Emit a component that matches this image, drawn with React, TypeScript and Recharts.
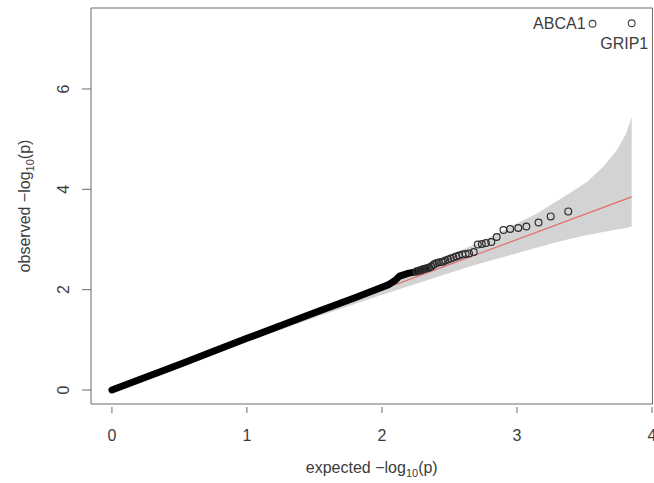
import React from 'react';
import { ComposedChart, XAxis, YAxis, Line, Area, Scatter, ReferenceArea, Label } from 'recharts';

// ---- tick labels ----
const xTicks = [0, 1, 2, 3, 4];
const yTicks = [0, 2, 4, 6];

// ---- 95% confidence band (expected, lower, upper) ----
const bandX = [0, 0.5, 1.0, 1.5, 2.0, 2.3, 2.5, 2.7, 2.9, 3.02, 3.15, 3.27, 3.39, 3.52, 3.64, 3.74, 3.81, 3.85];
const bandLow = [0, 0.485, 0.965, 1.44, 1.9, 2.16, 2.33, 2.5, 2.65, 2.74, 2.84, 2.93, 3.01, 3.09, 3.15, 3.2, 3.23, 3.26];
const bandHigh = [0.005, 0.515, 1.035, 1.56, 2.11, 2.45, 2.68, 2.92, 3.18, 3.35, 3.52, 3.72, 3.92, 4.15, 4.45, 4.78, 5.12, 5.45];

// ---- reference line y = x ----
const refX = [0, 3.85];
const refY = [0, 3.85];

// ---- dense bulk of the observed points ----
const denseX = [0, 0.5, 1.0, 1.5, 1.8, 2.0, 2.05, 2.1, 2.13, 2.2, 2.26, 2.3, 2.33];
const denseY = [0, 0.51, 1.03, 1.54, 1.84, 2.05, 2.1, 2.19, 2.27, 2.33, 2.36, 2.39, 2.42];

// ---- individual observed points in the tail ----
const ptX = [2.255, 2.265, 2.28, 2.29, 2.3, 2.31, 2.325, 2.34, 2.35, 2.365, 2.38, 2.39, 2.405, 2.42, 2.44, 2.455, 2.47, 2.49, 2.51, 2.53, 2.55, 2.57, 2.595, 2.62, 2.645, 2.68, 2.71, 2.74, 2.77, 2.81, 2.85, 2.9, 2.95, 3.01, 3.07, 3.16, 3.25, 3.38];
const ptY = [2.36, 2.37, 2.38, 2.39, 2.4, 2.41, 2.42, 2.43, 2.44, 2.46, 2.49, 2.51, 2.53, 2.54, 2.55, 2.56, 2.58, 2.6, 2.62, 2.64, 2.66, 2.68, 2.7, 2.71, 2.72, 2.75, 2.9, 2.91, 2.93, 2.95, 3.05, 3.19, 3.21, 3.23, 3.26, 3.34, 3.46, 3.56];

// ---- labelled top hits ----
const hitX = [3.56, 3.85];
const hitY = [7.3, 7.31];
const hitLabel = ['ABCA1', 'GRIP1'];

const bandData = bandX.map((x, i) => ({ x, band: [bandLow[i], bandHigh[i]] }));
const refData = refX.map((x, i) => ({ x, y: refY[i] }));
const denseData = denseX.map((x, i) => ({ x, y: denseY[i] }));
const pointData = ptX.map((x, i) => ({ x, y: ptY[i] }));
const hitData = hitX.map((x, i) => ({ x, y: hitY[i], label: hitLabel[i] }));

const FONT = '"Liberation Sans", Arial, Helvetica, sans-serif';
const TEXT = '#3c3c3c';
const LINE = '#6a6a6a';

const XTick = (props: any) => {
  const { x, y, payload } = props;
  return (
    <g>
      <line x1={x} x2={x} y1={y + 3} y2={y + 9} stroke={LINE} strokeWidth={1} />
      <text x={x} y={y + 36.5} textAnchor="middle" fontSize={16} fontFamily={FONT} fill={TEXT}>
        {payload.value}
      </text>
    </g>
  );
};

const YTick = (props: any) => {
  const { x, y, payload } = props;
  return (
    <g>
      <line x1={x - 9} x2={x} y1={y} y2={y} stroke={LINE} strokeWidth={1} />
      <text transform={`translate(${x - 22},${y}) rotate(-90)`} textAnchor="middle" fontSize={16} fontFamily={FONT} fill={TEXT}>
        {payload.value}
      </text>
    </g>
  );
};

const Title = ({ word }: { word: string }) => (
  <>
    {word} {'\u2212'}log
    <tspan fontSize={11} dy={4}>10</tspan>
    <tspan dy={-4}>(p)</tspan>
  </>
);

const XTitle = (props: any) => {
  const vb = props.viewBox || { x: 91, y: 404, width: 561.5, height: 79 };
  return (
    <text x={vb.x + vb.width / 2} y={vb.y + 69} textAnchor="middle" fontSize={16} fontFamily={FONT} fill={TEXT}>
      <Title word="expected" />
    </text>
  );
};

const YTitle = (props: any) => {
  const vb = props.viewBox || { x: 0, y: 8, width: 91, height: 396 };
  const cx = vb.x + 29.5;
  const cy = vb.y + vb.height / 2;
  return (
    <text transform={`translate(${cx},${cy}) rotate(-90)`} textAnchor="middle" fontSize={16} fontFamily={FONT} fill={TEXT}>
      <Title word="observed" />
    </text>
  );
};

const Ring = (props: any) => (
  <circle cx={props.cx} cy={props.cy} r={3.4} fill="none" stroke="#2e2e2e" strokeWidth={1.2} />
);

const HitRing = (props: any) => {
  const { cx, cy, payload } = props;
  const left = payload.label === 'ABCA1';
  return (
    <g>
      <circle cx={cx} cy={cy} r={3.4} fill="none" stroke="#444" strokeWidth={1.1} />
      <text
        x={left ? cx - 7 : cx - 7.5}
        y={left ? cy + 5.7 : cy + 25.5}
        textAnchor={left ? 'end' : 'middle'}
        fontSize={16}
        fontFamily={FONT}
        fill={TEXT}
      >
        {payload.label}
      </text>
    </g>
  );
};

export default function App() {
  return (
    <div style={{ position: 'absolute', left: 0, top: 0, width: 654, height: 483, background: '#fff' }}>
      <ComposedChart width={654} height={483} margin={{ top: 8, right: 1.5, bottom: 0, left: 0 }}>
        <XAxis
          type="number"
          dataKey="x"
          domain={[-0.155, 4.004]}
          ticks={xTicks}
          interval={0}
          allowDataOverflow
          axisLine={false}
          tickLine={false}
          tickSize={0}
          tickMargin={0}
          height={79}
          tick={XTick}
        >
          <Label content={XTitle} />
        </XAxis>
        <YAxis
          type="number"
          dataKey="y"
          domain={[-0.279, 7.614]}
          ticks={yTicks}
          interval={0}
          allowDataOverflow
          axisLine={false}
          tickLine={false}
          tickSize={0}
          tickMargin={0}
          width={91}
          tick={YTick}
        >
          <Label content={YTitle} />
        </YAxis>
        <Area data={bandData} dataKey="band" type="linear" stroke="none" fill="#d3d3d3" fillOpacity={1} isAnimationActive={false} />
        <Line data={refData} dataKey="y" type="linear" stroke="#e36a6a" strokeWidth={1.2} dot={false} activeDot={false} isAnimationActive={false} />
        <Line data={denseData} dataKey="y" type="linear" stroke="#000" strokeWidth={7} strokeLinecap="round" strokeLinejoin="round" dot={false} activeDot={false} isAnimationActive={false} />
        <Scatter data={pointData} dataKey="y" shape={Ring} isAnimationActive={false} />
        <Scatter data={hitData} dataKey="y" shape={HitRing} isAnimationActive={false} />
        <ReferenceArea x1={-0.155} x2={4.004} y1={-0.279} y2={7.614} fill="none" stroke={LINE} strokeWidth={1} ifOverflow="visible" />
      </ComposedChart>
    </div>
  );
}
